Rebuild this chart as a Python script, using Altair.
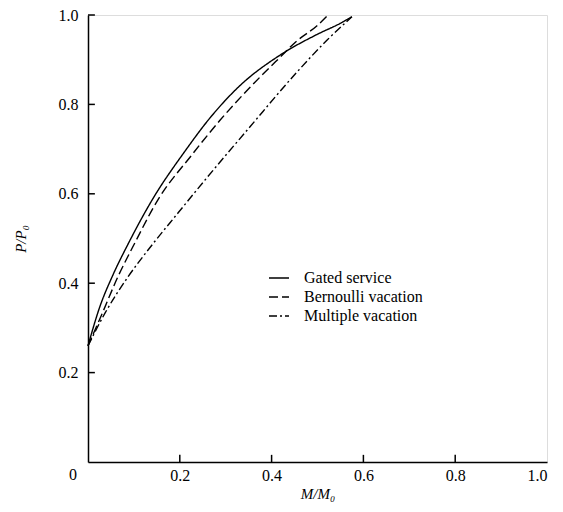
import altair as alt
import pandas as pd

gated_x = [0, 0.025, 0.055, 0.087, 0.139, 0.211, 0.266, 0.331, 0.418, 0.5, 0.549, 0.575]
gated_y = [0.26, 0.345, 0.42, 0.487, 0.585, 0.695, 0.77, 0.842, 0.91, 0.957, 0.981, 0.996]
bern_x = [0, 0.03, 0.065, 0.102, 0.152, 0.227, 0.288, 0.35, 0.418, 0.455, 0.499, 0.523]
bern_y = [0.26, 0.33, 0.414, 0.49, 0.586, 0.688, 0.765, 0.835, 0.905, 0.942, 0.976, 1.0]
mult_x = [0, 0.037, 0.087, 0.139, 0.196, 0.255, 0.353, 0.455, 0.521, 0.575]
mult_y = [0.26, 0.333, 0.414, 0.485, 0.557, 0.631, 0.75, 0.872, 0.944, 0.996]

series = ["Gated service", "Bernoulli vacation", "Multiple vacation"]
x_ticks = [0.2, 0.4, 0.6, 0.8]
y_ticks = [0.2, 0.4, 0.6, 0.8, 1.0]

rows = []
for name, xs_, ys_ in zip(series, [gated_x, bern_x, mult_x], [gated_y, bern_y, mult_y]):
    for i, (a, b) in enumerate(zip(xs_, ys_)):
        rows.append({"series": name, "x": a, "y": b, "order": i})
df = pd.DataFrame(rows)

FONT = "Liberation Serif"
xs = alt.Scale(domain=[0, 1], nice=False)
ys = alt.Scale(domain=[0, 1], nice=False)

lines = alt.Chart(df).mark_line(color="black", strokeWidth=1.4, interpolate="monotone").encode(
    x=alt.X("x:Q", scale=xs, title="M/M₀",
            axis=alt.Axis(values=[0.2, 0.4, 0.6, 0.8, 1.0], ticks=False, grid=False,
                          labelExpr="format(datum.value, '.1f')",
                          labelFont=FONT, labelFontSize=16, labelColor="black",
                          titleFont=FONT, titleFontSize=15, titleColor="black",
                          domainColor="black", domainWidth=1.5, labelPadding=5,
                          titlePadding=3, titleFontStyle="italic", titleFontWeight="normal")),
    y=alt.Y("y:Q", scale=ys, title="P/P₀",
            axis=alt.Axis(values=y_ticks, ticks=False, grid=False,
                          labelExpr="format(datum.value, '.1f')",
                          labelFont=FONT, labelFontSize=16, labelColor="black",
                          titleFont=FONT, titleFontSize=15, titleColor="black",
                          domainColor="black", domainWidth=1.5, labelPadding=10,
                          titlePadding=30, titleFontStyle="italic", titleFontWeight="normal")),
    strokeDash=alt.StrokeDash("series:N",
        scale=alt.Scale(domain=series, range=[[1, 0], [9, 4], [8, 3, 2, 3]]),
        legend=alt.Legend(title=None, orient="none", legendX=180, legendY=252,
                          symbolType="stroke", symbolSize=400, symbolStrokeWidth=1.6,
                          symbolStrokeColor="black", labelFont=FONT, labelFontSize=16,
                          labelColor="black", rowPadding=0, labelOffset=14)),
    order="order:Q",
)

xt = pd.DataFrame({"v": x_ticks, "y0": [0.0] * 4, "y1": [0.016] * 4})
yt = pd.DataFrame({"v": y_ticks, "x0": [0.0] * 5, "x1": [0.015] * 5})

xticks = alt.Chart(xt).mark_rule(color="black", strokeWidth=1.5).encode(
    x=alt.X("v:Q", scale=xs), y=alt.Y("y0:Q", scale=ys), y2="y1:Q")
yticks = alt.Chart(yt).mark_rule(color="black", strokeWidth=1.5).encode(
    y=alt.Y("v:Q", scale=ys), x=alt.X("x0:Q", scale=xs), x2="x1:Q")

origin = alt.Chart(pd.DataFrame({"x": [0.0], "y": [0.0], "t": ["0"]})).mark_text(
    font=FONT, fontSize=16, color="black", dx=-15, dy=13).encode(
    x=alt.X("x:Q", scale=xs), y=alt.Y("y:Q", scale=ys), text="t:N")

chart = alt.layer(lines, xticks, yticks, origin).properties(
    width=459, height=447,
    autosize=alt.AutoSizeParams(type="none"),
    padding={"left": 80, "top": 7, "right": 6, "bottom": 40},
).configure_view(stroke=None).configure(background="white")

chart.save("out.html", embed_options={"renderer": "svg", "actions": False})
